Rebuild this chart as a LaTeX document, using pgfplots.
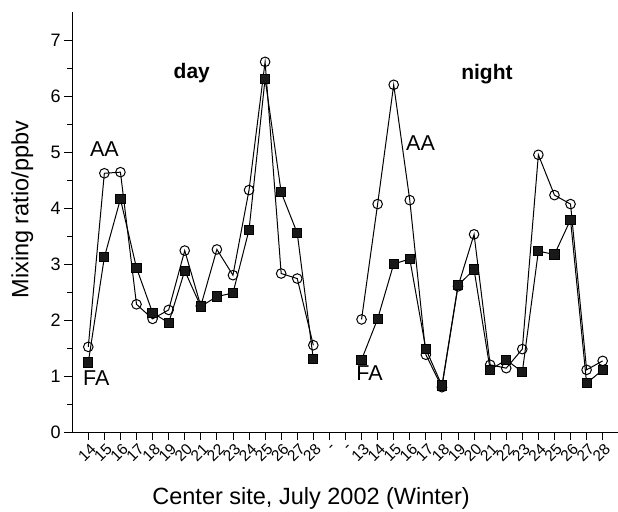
\documentclass[border=0pt]{standalone}
\usepackage{fontspec}
\setmainfont{Liberation Sans}
\usepackage{pgfplots}
\pgfplotsset{compat=1.18}

\pgfplotstableread{
x aa fa
1 1.52 1.24
2 4.62 3.12
3 4.64 4.16
4 2.28 2.93
5 2.02 2.13
6 2.18 1.95
7 3.24 2.88
8 2.25 2.24
9 3.26 2.42
10 2.80 2.48
11 4.32 3.61
12 6.61 6.31
13 2.83 4.28
14 2.74 3.55
15 1.55 1.30
}\daydata

\pgfplotstableread{
x aa fa
18 2.01 1.29
19 4.07 2.02
20 6.20 3.00
21 4.14 3.09
22 1.38 1.48
23 0.80 0.83
24 2.60 2.62
25 3.53 2.90
26 1.20 1.11
27 1.14 1.29
28 1.48 1.07
29 4.95 3.23
30 4.23 3.17
31 4.07 3.79
32 1.11 0.87
33 1.27 1.11
}\nightdata

\begin{document}
\begin{tikzpicture}
\begin{axis}[
    x=16.075pt, y=56pt,
    xmin=0, xmax=34, ymin=0, ymax=7.5,
    axis lines=left,
    axis line style={-, line width=1pt},
    tick align=outside,
    major tick length=8pt, minor tick length=5pt,
    tick style={line width=0.9pt, black},
    xtick={1,...,34},
    xticklabels={14,15,16,17,18,19,20,21,22,23,24,25,26,27,28,-,-,13,14,15,16,17,18,19,20,21,22,23,24,25,26,27,28,-},
    x tick label style={rotate=45, anchor=east, font=\fontsize{15.5}{17}\selectfont, inner sep=1pt, yshift=-8pt},
    ytick={0,...,7}, minor y tick num=1,
    y tick label style={font=\fontsize{18}{20}\selectfont},
    /pgf/number format/assume math mode=true,
    clip=false,
]
\addplot[black, line width=1pt, mark=o, mark size=4.8pt, mark options={fill=white, line width=1pt}] table[x=x, y=aa] {\daydata};
\addplot[black, line width=1pt, mark=square*, mark size=4.6pt, mark options={fill=black!90}] table[x=x, y=fa] {\daydata};
\addplot[black, line width=1pt, mark=o, mark size=4.8pt, mark options={fill=white, line width=1pt}] table[x=x, y=aa] {\nightdata};
\addplot[black, line width=1pt, mark=square*, mark size=4.6pt, mark options={fill=black!90}] table[x=x, y=fa] {\nightdata};

\node[font=\fontsize{21.5}{24}\selectfont] at (axis cs:2.0,5.05) {AA};
\node[font=\fontsize{21.5}{24}\selectfont] at (axis cs:1.5,0.96) {FA};
\node[font=\fontsize{21.5}{24}\selectfont] at (axis cs:21.67,5.15) {AA};
\node[font=\fontsize{21.5}{24}\selectfont] at (axis cs:18.5,1.05) {FA};
\node[font=\fontsize{21}{24}\bfseries\selectfont, anchor=base] at (axis cs:7.44,6.32) {day};
\node[font=\fontsize{21}{24}\bfseries\selectfont, anchor=base] at (axis cs:25.8,6.29) {night};
\node[font=\fontsize{23.5}{26}\selectfont, rotate=90] at (axis cs:-3.1,3.97) {Mixing ratio/ppbv};
\node[font=\fontsize{23.5}{26}\selectfont, anchor=base] at (axis cs:14.86,-1.29) {Center site, July 2002 (Winter)};
\coordinate (ll) at (rel axis cs:0,0);
\end{axis}
\pgfresetboundingbox
\path[use as bounding box] ([shift={(-72.2pt,-79pt)}]ll) rectangle ([shift={(545.8pt,432pt)}]ll);
\end{tikzpicture}
\end{document}
